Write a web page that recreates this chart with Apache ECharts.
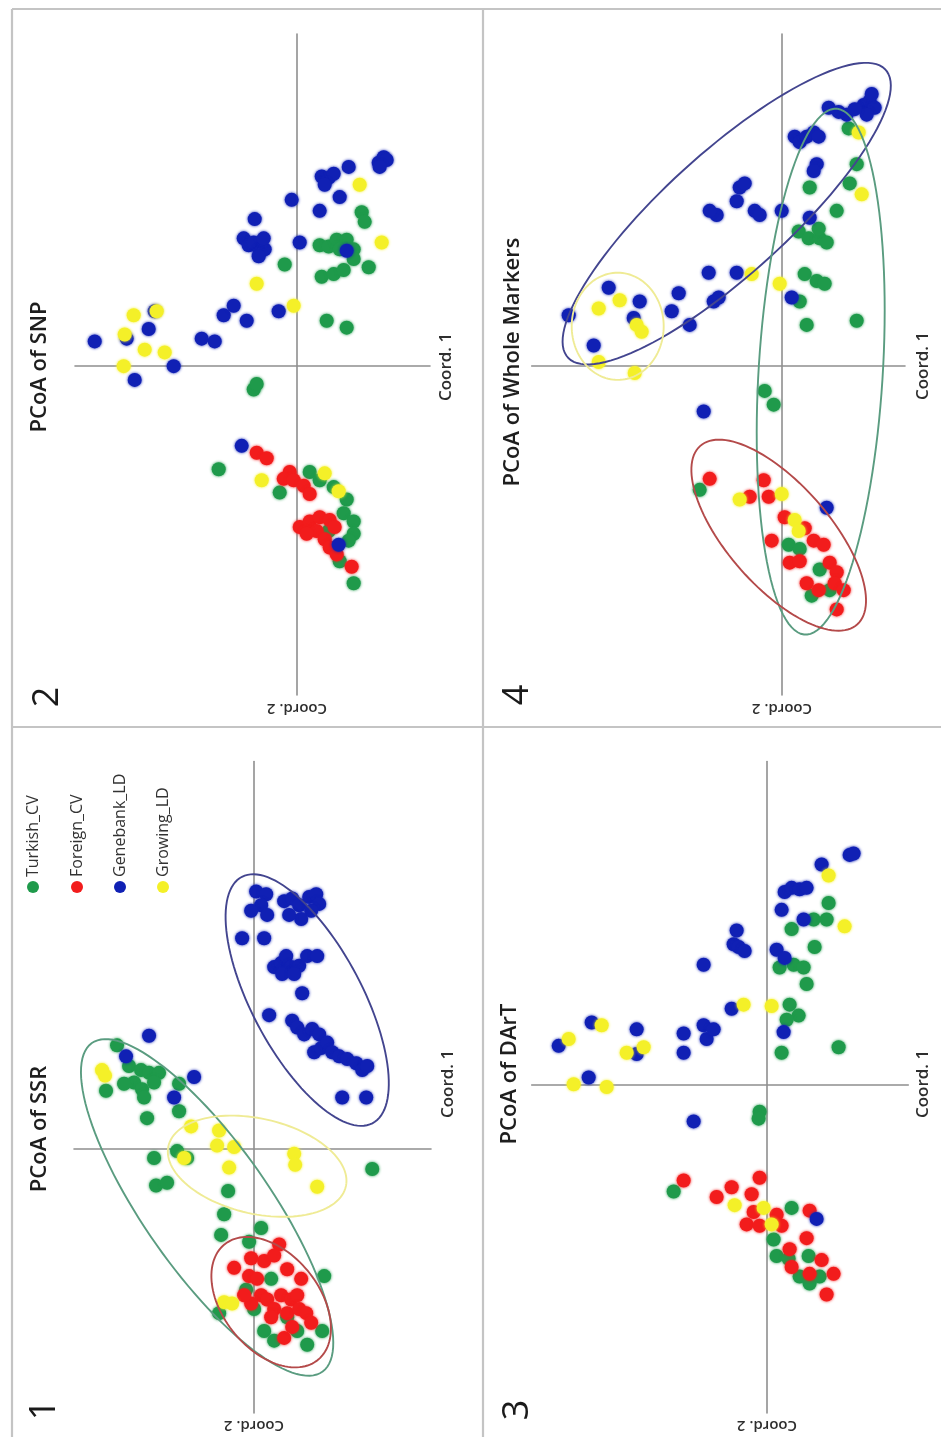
<!DOCTYPE html>
<html><head><meta charset="utf-8">
<script src="https://cdn.jsdelivr.net/npm/echarts@6/dist/echarts.min.js"></script>
<style>html,body{margin:0;padding:0;background:#fff}#c{width:941px;height:1437px}</style>
</head><body><div id="c"></div>
<script>
// ---------- DATA ----------
const groupNames = ['Turkish_CV', 'Foreign_CV', 'Genebank_LD', 'Growing_LD'];
const panelTitles = ['PCoA of SSR', 'PCoA of SNP', 'PCoA of DArT', 'PCoA of Whole Markers'];
const panelNumbers = ['1', '2', '3', '4'];
const axisNames = ['Coord. 1', 'Coord. 2'];

// Panel 1 : SSR  [coord (horizontal), coord (vertical)]
const ssrTurkish = [[-13.7,7.5],[-12.5,6.0],[-11.3,5.7],[-10.5,5.5],[-9.5,5.5],[-12.0,4.8],[-13.0,4.7],[-11.2,4.3],[-10.0,4.8],[-11.0,3.7],[-14.8,4.2],[-7.5,4.7],[-7.5,2.7],[-10.7,2.2],[-7.7,-0.2],[-10.0,-0.7],[-9.8,-2.7],[-8.7,-2.5],[-6.7,-0.7],[-2.6,-3.1],[-3.0,-4.8],[-3.3,-6.3],[0.7,-5.8],[-0.5,-6.8],[7.0,-9.3],[-3.5,-12.0],[-0.8,-10.3],[1.0,-13.3],[2.0,-14.0],[3.3,-12.3],[4.3,-13.3],[5.3,-14.3],[6.8,-13.3],[0.0,-11.7],[11.8,-1.5],[1.7,-9.5]];
const ssrForeign = [[2.5,-7.0],[-2.0,-8.7],[-0.3,-8.0],[1.0,-8.2],[2.0,-7.8],[-0.5,-9.3],[0.7,-10.7],[1.3,-11.0],[2.0,-11.7],[2.7,-10.7],[3.7,-11.0],[4.3,-10.7],[3.3,-12.0],[4.5,-11.7],[5.2,-12.0],[5.7,-12.7],[3.0,-13.8],[-0.3,-11.3],[-1.0,-10.7],[3.3,-8.8],[4.7,-9.5],[1.7,-12.3],[0.3,-9.5],[3.8,-13.0]];
const ssrGenebank = [[0.2,18.7],[1.2,18.5],[0.7,17.7],[-0.3,17.3],[1.3,17.0],[3.0,18.0],[3.8,18.2],[4.5,17.7],[5.5,18.3],[6.2,18.5],[6.5,17.8],[5.7,17.3],[4.7,16.7],[3.5,17.0],[-1.2,15.3],[1.0,15.3],[2.0,13.2],[2.7,13.5],[3.2,14.0],[3.7,13.2],[4.5,13.3],[5.3,14.0],[6.3,14.0],[2.8,12.7],[4.0,12.7],[4.8,11.3],[1.5,9.7],[3.8,9.3],[4.3,8.8],[5.0,8.3],[5.8,8.7],[6.5,8.3],[6.0,7.0],[6.7,7.3],[7.3,7.7],[7.8,7.0],[8.5,6.7],[9.3,6.5],[10.2,6.2],[10.8,5.7],[11.3,6.0],[8.8,3.7],[11.2,3.7],[-10.5,8.2],[-12.8,6.7],[-6.0,5.2],[-8.0,3.7]];
const ssrGrowing = [[-15.2,5.7],[-14.9,5.3],[-6.3,1.6],[-3.5,1.3],[-3.7,0.2],[-2.0,0.1],[-2.5,-1.4],[-7.0,-0.7],[4.0,-0.4],[4.1,-1.2],[6.3,-2.8],[-3.0,-11.2],[-2.2,-11.3]];
// ellipses: [centre x, centre y, semi-axis a, semi-axis b, angle of a (deg), group]
const ssrEllipses = [[-4.7,-4.3,16.7,5.5,-44,0],[1.7,-11.2,6.5,4.0,-30,1],[5.3,10.8,11.2,5.0,-50,2],[0.3,-1.3,9.0,3.5,-8,3]];

// Panel 2 : SNP
const snpTurkish = [[-1.2,7.4],[6.5,11.2],[6.8,10.5],[2.3,8.8],[3.2,8.7],[4.0,9.2],[5.0,9.2],[4.3,8.5],[5.7,8.5],[2.5,6.5],[3.7,6.7],[4.7,7.0],[5.7,7.8],[7.2,7.2],[3.0,3.3],[5.0,2.8],[-4.3,-1.7],[-4.0,-1.3],[-7.8,-7.5],[1.3,-7.7],[2.3,-8.3],[-1.7,-9.2],[3.7,-8.8],[5.0,-9.7],[4.7,-10.7],[5.7,-11.3],[5.7,-12.2],[5.2,-12.7],[4.3,-14.2],[5.7,-15.8],[3.2,-12.0]];
const snpForeign = [[-4.0,-6.3],[-3.0,-6.7],[-0.7,-7.7],[-1.3,-8.2],[-0.3,-8.3],[0.7,-8.7],[1.3,-9.3],[0.3,-11.7],[1.3,-11.3],[2.3,-11.0],[3.3,-11.2],[2.0,-12.0],[2.8,-12.6],[1.0,-12.2],[3.8,-11.7],[3.3,-13.2],[4.0,-13.7],[5.5,-14.6]];
const snpGenebank = [[-20.2,1.8],[-17.0,2.0],[-14.8,2.7],[-14.2,4.0],[-12.3,0.0],[-16.2,-1.0],[-9.5,2.0],[-8.2,1.8],[-7.3,3.7],[-6.3,4.4],[-5.0,3.3],[-1.8,4.0],[-5.3,9.3],[-4.8,8.8],[-4.3,9.0],[-3.7,8.3],[-3.2,8.5],[-3.3,9.3],[-3.8,8.0],[-4.2,10.7],[0.3,9.0],[-0.5,12.1],[2.3,11.3],[2.5,13.8],[3.2,13.7],[3.7,14.0],[2.8,13.2],[4.3,12.3],[5.2,14.5],[8.2,14.8],[8.7,15.2],[9.0,15.0],[8.3,14.5],[5.0,8.4],[-5.5,-5.8],[4.2,-13.0]];
const snpGrowing = [[-17.2,2.3],[-16.3,3.7],[-14.0,4.0],[-15.2,1.2],[-13.2,1.0],[-17.3,0.0],[-0.3,4.4],[-4.0,6.0],[6.3,13.2],[8.5,9.0],[2.8,-7.8],[-3.5,-8.3],[4.2,-9.1]];

// Panel 3 : DArT
const dartTurkish = [[6.2,13.2],[2.5,11.3],[4.7,12.0],[6.0,12.0],[4.8,10.0],[1.3,8.5],[2.7,8.7],[3.7,8.5],[4.0,7.3],[2.3,5.8],[3.2,5.0],[2.0,4.7],[1.5,2.3],[7.2,2.7],[-0.7,-2.0],[-0.8,-2.5],[-9.3,-7.8],[2.5,-9.0],[0.7,-11.3],[1.0,-12.5],[2.2,-12.7],[4.2,-12.5],[3.3,-14.0],[4.3,-14.5],[5.3,-14.0]];
const dartForeign = [[-8.3,-7.0],[-5.0,-8.2],[-3.5,-7.5],[-1.5,-8.0],[-0.7,-6.8],[-1.3,-9.3],[-2.0,-10.2],[-0.7,-10.3],[1.5,-10.3],[2.3,-12.0],[4.0,-11.2],[4.3,-9.2],[2.5,-13.3],[4.3,-13.8],[5.5,-12.8],[6.7,-13.8],[6.0,-15.3],[1.0,-9.5]];
const dartGenebank = [[-20.8,2.8],[-17.5,4.5],[-17.8,0.5],[-13.0,4.0],[-13.0,2.2],[-8.3,3.7],[-8.3,2.3],[-6.3,4.3],[-6.0,3.3],[-5.3,4.0],[-3.5,5.5],[-6.3,8.7],[-3.3,10.2],[-3.0,11.2],[-2.8,10.0],[-2.2,9.7],[1.0,9.8],[1.8,9.2],[1.5,12.7],[1.8,14.0],[2.5,14.3],[3.3,14.2],[4.0,14.3],[3.7,12.0],[5.5,16.0],[8.3,16.7],[8.7,16.8],[1.7,3.8],[5.0,-9.8],[-7.3,-2.7]];
const dartGrowing = [[-19.8,3.3],[-16.5,4.3],[-19.3,0.0],[-16.0,-0.2],[-14.0,2.3],[-12.3,2.7],[-2.3,5.8],[0.5,5.7],[6.2,15.2],[7.8,11.5],[-3.2,-8.8],[-0.3,-9.0],[0.5,-10.2]];

// Panel 4 : Whole markers
const wholeTurkish = [[2.5,3.0],[2.3,6.7],[3.5,6.2],[4.3,6.0],[7.5,3.3],[1.8,4.7],[1.7,9.8],[2.7,9.3],[3.8,9.3],[4.5,9.0],[5.5,11.3],[3.7,10.0],[2.8,13.0],[6.8,13.3],[7.5,14.7],[6.7,17.3],[-1.7,-1.8],[-0.8,-2.8],[-8.2,-9.0],[0.7,-13.0],[1.8,-13.3],[3.8,-14.8],[3.0,-16.7],[4.8,-16.3]];
const wholeForeign = [[-7.2,-8.2],[-3.2,-9.5],[-1.8,-8.3],[-1.3,-9.5],[0.3,-11.0],[-1.0,-12.7],[0.8,-14.3],[1.8,-14.2],[3.2,-12.7],[4.2,-13.0],[4.8,-14.3],[2.5,-15.8],[3.7,-16.3],[5.5,-15.0],[5.3,-15.8],[6.2,-16.3],[5.5,-17.7],[2.3,-11.8]];
const wholeGenebank = [[-21.3,3.7],[-18.8,1.5],[-17.3,5.7],[-14.8,3.5],[-14.2,4.7],[-11.0,4.0],[-10.3,5.3],[-9.2,3.0],[-7.3,6.8],[-6.8,4.7],[-6.3,5.0],[-6.5,11.0],[-7.2,11.3],[-4.5,6.8],[-4.2,13.0],[-3.7,13.3],[-4.5,12.0],[-2.7,11.3],[-2.2,11.0],[0.0,11.3],[1.0,5.0],[2.8,10.8],[1.3,16.7],[1.8,16.3],[2.5,16.7],[3.2,17.0],[3.7,16.7],[3.5,14.7],[3.2,14.2],[4.7,18.8],[5.7,18.5],[6.5,18.3],[8.2,19.0],[8.8,19.3],[9.3,18.8],[8.5,18.3],[7.3,18.7],[9.0,19.8],[-7.8,-3.3],[4.5,-10.3]];
const wholeGrowing = [[-18.3,4.2],[-16.2,4.8],[-14.5,3.0],[-14.0,2.5],[-18.3,0.3],[-14.7,-0.5],[-3.0,6.7],[-0.2,6.0],[7.7,17.0],[8.0,12.5],[-4.2,-9.7],[0.0,-9.3],[1.3,-11.2],[1.7,-12.0]];
const wholeEllipses = [[-5.5,11.1,19.1,5.0,32,2],[-16.4,2.9,4.6,3.9,0,3],[3.9,-0.4,19.2,6.2,85,0],[-0.3,-12.3,10.3,4.3,-35.7,1]];

// ---------- STYLE / LAYOUT ----------
const pointColors = ['#1f9a4b', '#f21c1c', '#1020b4', '#f4f028'];
const ellipseColors = ['#5a9c80', '#b44a4a', '#43458f', '#efeb95'];
const frameColor = '#c4c4c4';
const panels = [
  {data: [ssrTurkish, ssrForeign, ssrGenebank, ssrGrowing], ell: ssrEllipses,
   grid: {left: 74, top: 761.5, width: 357, height: 651.5}, x: [-18, 17.67], y: [-19.27, 28.17],
   title: [40, 1129], num: [45, 1410], c1: [448, 1084], c2: [254, 1425]},
  {data: [snpTurkish, snpForeign, snpGenebank, snpGrowing], ell: [],
   grid: {left: 75, top: 34, width: 355, height: 661}, x: [-22.17, 13.33], y: [-23.93, 24.17],
   title: [40, 367], num: [48, 697], c1: [446, 367], c2: [297, 708]},
  {data: [dartTurkish, dartForeign, dartGenebank, dartGrowing], ell: [],
   grid: {left: 531.7, top: 761.5, width: 376.6, height: 651.5}, x: [-23.5, 14.17], y: [-23.93, 23.5],
   title: [510, 1074], num: [518, 1410], c1: [923, 1084], c2: [767, 1425]},
  {data: [wholeTurkish, wholeForeign, wholeGenebank, wholeGrowing], ell: wholeEllipses,
   grid: {left: 531.7, top: 34, width: 373.3, height: 661}, x: [-25, 12.33], y: [-23.93, 24.17],
   title: [513, 362], num: [518, 695], c1: [923, 366], c2: [782, 708]}
];

const chart = echarts.init(document.getElementById('c'), null, {renderer: 'canvas'});
const grids = [], xAxes = [], yAxes = [], series = [], graphics = [];
const FONT = '"Open Sans", "Liberation Sans", sans-serif';
const axisLineStyle = {color: '#8f8f8f', width: 1.6};

function renderEllipse(params, api) {
  const cx = api.value(0), cy = api.value(1), a = api.value(2), b = api.value(3);
  const ang = api.value(4) * Math.PI / 180;
  const pts = [];
  for (let i = 0; i <= 120; i++) {
    const t = i / 120 * Math.PI * 2;
    const px = cx + a * Math.cos(t) * Math.cos(ang) - b * Math.sin(t) * Math.sin(ang);
    const py = cy + a * Math.cos(t) * Math.sin(ang) + b * Math.sin(t) * Math.cos(ang);
    pts.push(api.coord([px, py]));
  }
  return {type: 'polyline', shape: {points: pts},
    style: {fill: null, stroke: ellipseColors[api.value(5)], lineWidth: 1.9}};
}

panels.forEach((p, i) => {
  grids.push(Object.assign({containLabel: false}, p.grid));
  xAxes.push({gridIndex: i, type: 'value', min: p.x[0], max: p.x[1],
    axisLine: {onZero: true, lineStyle: axisLineStyle}, axisTick: {show: false},
    axisLabel: {show: false}, splitLine: {show: false}});
  yAxes.push({gridIndex: i, type: 'value', min: p.y[0], max: p.y[1],
    axisLine: {onZero: true, lineStyle: axisLineStyle}, axisTick: {show: false},
    axisLabel: {show: false}, splitLine: {show: false}});
  p.data.forEach((arr, g) => {
    series.push({type: 'scatter', name: groupNames[g], xAxisIndex: i, yAxisIndex: i,
      data: arr, symbolSize: 14, z: 2 + g,
      itemStyle: {color: pointColors[g], opacity: 1, shadowBlur: 3, shadowColor: pointColors[g]},
      emphasis: {disabled: true}, silent: true});
  });
  if (p.ell.length) {
    series.push({type: 'custom', xAxisIndex: i, yAxisIndex: i, data: p.ell,
      encode: {x: 0, y: 1}, renderItem: renderEllipse, z: 10, silent: true, clip: false});
  }
  graphics.push({type: 'text', x: p.title[0], y: p.title[1], rotation: Math.PI / 2,
    style: {text: panelTitles[i], font: '600 22px ' + FONT, fill: '#1e1e1e', align: 'center', verticalAlign: 'middle'}});
  graphics.push({type: 'text', x: p.num[0], y: p.num[1], rotation: Math.PI / 2,
    style: {text: panelNumbers[i], font: '500 36px ' + FONT, fill: '#1a1a1a', align: 'center', verticalAlign: 'middle'}});
  graphics.push({type: 'text', x: p.c1[0], y: p.c1[1], rotation: Math.PI / 2,
    style: {text: axisNames[0], font: '600 17px ' + FONT, fill: '#2e2e2e', align: 'center', verticalAlign: 'middle'}});
  graphics.push({type: 'text', x: p.c2[0], y: p.c2[1], rotation: Math.PI,
    style: {text: axisNames[1], font: '600 15px ' + FONT, fill: '#2e2e2e', align: 'center', verticalAlign: 'middle'}});
});

// legend (panel 1)
const legendX = [33, 77, 120, 163];
groupNames.forEach((n, g) => {
  graphics.push({type: 'circle', shape: {cx: legendX[g], cy: 887, r: 6}, style: {fill: pointColors[g]}});
  graphics.push({type: 'text', x: legendX[g], y: 877, rotation: Math.PI / 2,
    style: {text: n, font: '16px ' + FONT, fill: '#333', align: 'left', verticalAlign: 'middle'}});
});

// frame lines
[[12, 9, 941, 9], [12, 9, 12, 1437], [483, 9, 483, 1437], [12, 727, 941, 727]].forEach(l => {
  graphics.push({type: 'line', shape: {x1: l[0], y1: l[1], x2: l[2], y2: l[3]},
    style: {stroke: frameColor, lineWidth: 2.2}, z: 0});
});

chart.setOption({
  backgroundColor: '#ffffff',
  animation: false,
  grid: grids, xAxis: xAxes, yAxis: yAxes, series: series, graphic: graphics
});
</script></body></html>
